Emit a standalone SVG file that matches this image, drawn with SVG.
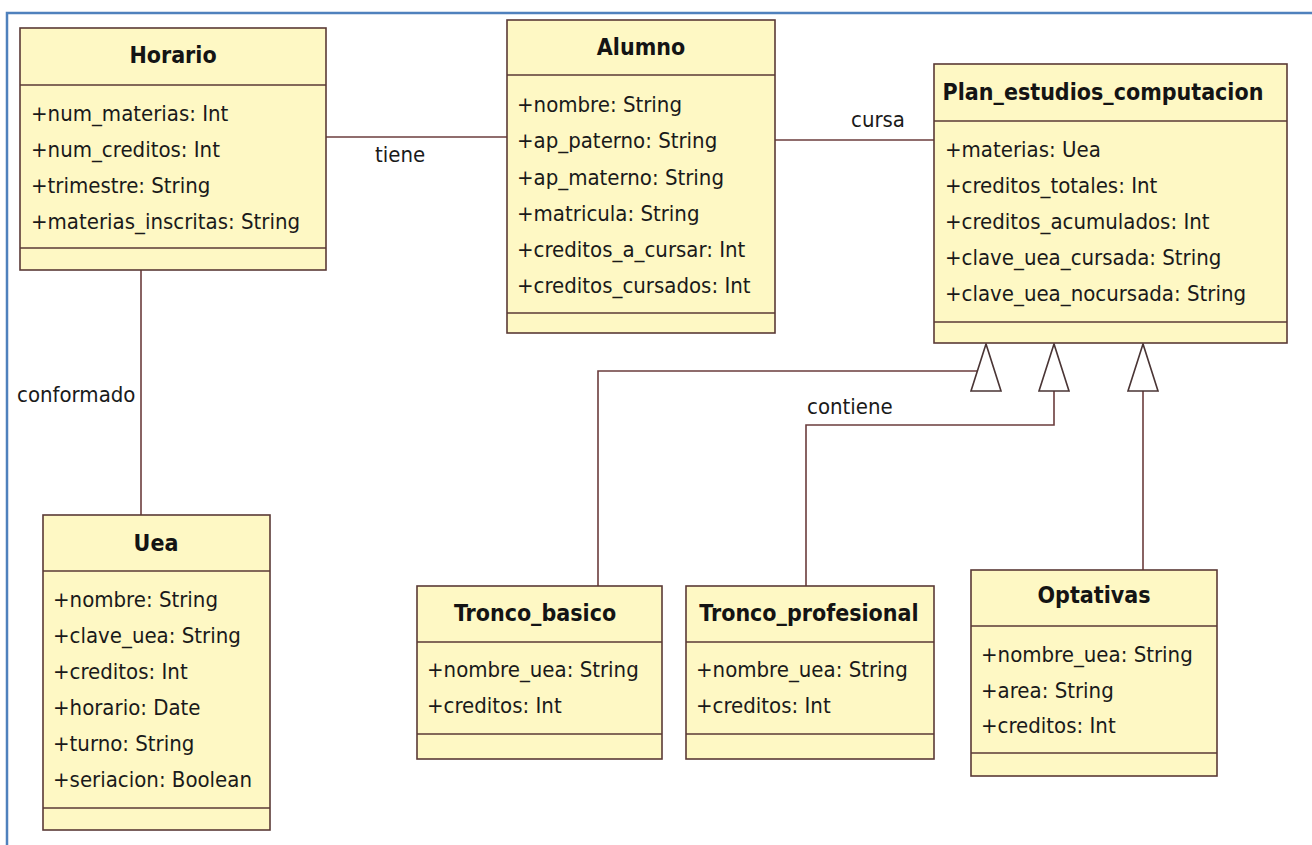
<svg xmlns="http://www.w3.org/2000/svg" width="1312" height="845" viewBox="0 0 1312 845">
<style>
.bg{fill:#ffffff}
.frame{fill:none;stroke:#4f81bd;stroke-width:2.5}
.box{fill:#fef8c4;stroke:#5a3a36;stroke-width:1.6}
.sep{stroke:#5a3a36;stroke-width:1.6}
.t{font-family:"DejaVu Sans Condensed","DejaVu Sans",sans-serif;font-stretch:condensed;font-weight:bold;font-size:23px;text-anchor:middle;fill:#141414}
.a{font-family:"DejaVu Sans Condensed","DejaVu Sans",sans-serif;font-stretch:condensed;font-size:22px;fill:#1a1a1a}
.lbl{font-family:"DejaVu Sans Condensed","DejaVu Sans",sans-serif;font-stretch:condensed;font-size:22px;fill:#1a1a1a}
.ln{fill:none;stroke:#6b3c3c;stroke-width:1.6}
.tri{fill:#ffffff;stroke:#4a3535;stroke-width:1.6}
</style>
<rect class="bg" x="0" y="0" width="1312" height="845"/>
<path class="frame" d="M1312,13 H7 V845"/>

<g id="connectors">
  <line class="ln" x1="326" y1="137" x2="507" y2="137"/>
  <text class="lbl" x="375" y="162">tiene</text>
  <line class="ln" x1="775" y1="140" x2="934" y2="140"/>
  <text class="lbl" x="851" y="127">cursa</text>
  <line class="ln" x1="141" y1="270" x2="141" y2="515"/>
  <text class="lbl" x="17" y="402">conformado</text>
  <polyline class="ln" points="977,371 598,371 598,586"/>
  <polyline class="ln" points="1054,391 1054,425 806,425 806,586"/>
  <text class="lbl" x="807" y="414">contiene</text>
  <line class="ln" x1="1143" y1="391" x2="1143" y2="570"/>
  <polygon class="tri" points="986,344 971,391 1001,391"/>
  <polygon class="tri" points="1054,344 1039,391 1069,391"/>
  <polygon class="tri" points="1143,344 1128,391 1158,391"/>
</g>

<g id="Horario">
  <rect class="box" x="20" y="28" width="306" height="242"/>
  <line class="sep" x1="20" y1="85" x2="326" y2="85"/>
  <line class="sep" x1="20" y1="248" x2="326" y2="248"/>
  <text class="t" x="173" y="63">Horario</text>
  <text class="a" x="31" y="121">+num_materias: Int</text>
  <text class="a" x="31" y="157">+num_creditos: Int</text>
  <text class="a" x="31" y="193">+trimestre: String</text>
  <text class="a" x="31" y="229">+materias_inscritas: String</text>
</g>

<g id="Alumno">
  <rect class="box" x="507" y="20" width="268" height="313"/>
  <line class="sep" x1="507" y1="75" x2="775" y2="75"/>
  <line class="sep" x1="507" y1="313" x2="775" y2="313"/>
  <text class="t" x="641" y="55">Alumno</text>
  <text class="a" x="517" y="112">+nombre: String</text>
  <text class="a" x="517" y="148">+ap_paterno: String</text>
  <text class="a" x="517" y="185">+ap_materno: String</text>
  <text class="a" x="517" y="221">+matricula: String</text>
  <text class="a" x="517" y="257">+creditos_a_cursar: Int</text>
  <text class="a" x="517" y="293">+creditos_cursados: Int</text>
</g>

<g id="Plan_estudios_computacion">
  <rect class="box" x="934" y="64" width="353" height="279"/>
  <line class="sep" x1="934" y1="121" x2="1287" y2="121"/>
  <line class="sep" x1="934" y1="322" x2="1287" y2="322"/>
  <text class="t" x="1103" y="100">Plan_estudios_computacion</text>
  <text class="a" x="945" y="157">+materias: Uea</text>
  <text class="a" x="945" y="193">+creditos_totales: Int</text>
  <text class="a" x="945" y="229">+creditos_acumulados: Int</text>
  <text class="a" x="945" y="265">+clave_uea_cursada: String</text>
  <text class="a" x="945" y="301">+clave_uea_nocursada: String</text>
</g>

<g id="Uea">
  <rect class="box" x="43" y="515" width="227" height="315"/>
  <line class="sep" x1="43" y1="571" x2="270" y2="571"/>
  <line class="sep" x1="43" y1="808" x2="270" y2="808"/>
  <text class="t" x="156" y="551">Uea</text>
  <text class="a" x="53" y="607">+nombre: String</text>
  <text class="a" x="53" y="643">+clave_uea: String</text>
  <text class="a" x="53" y="679">+creditos: Int</text>
  <text class="a" x="53" y="715">+horario: Date</text>
  <text class="a" x="53" y="751">+turno: String</text>
  <text class="a" x="53" y="787">+seriacion: Boolean</text>
</g>

<g id="Tronco_basico">
  <rect class="box" x="417" y="586" width="245" height="173"/>
  <line class="sep" x1="417" y1="642" x2="662" y2="642"/>
  <line class="sep" x1="417" y1="734" x2="662" y2="734"/>
  <text class="t" x="535" y="621">Tronco_basico</text>
  <text class="a" x="427" y="677">+nombre_uea: String</text>
  <text class="a" x="427" y="713">+creditos: Int</text>
</g>

<g id="Tronco_profesional">
  <rect class="box" x="686" y="586" width="248" height="173"/>
  <line class="sep" x1="686" y1="642" x2="934" y2="642"/>
  <line class="sep" x1="686" y1="734" x2="934" y2="734"/>
  <text class="t" x="809" y="621">Tronco_profesional</text>
  <text class="a" x="696" y="677">+nombre_uea: String</text>
  <text class="a" x="696" y="713">+creditos: Int</text>
</g>

<g id="Optativas">
  <rect class="box" x="971" y="570" width="246" height="206"/>
  <line class="sep" x1="971" y1="626" x2="1217" y2="626"/>
  <line class="sep" x1="971" y1="753" x2="1217" y2="753"/>
  <text class="t" x="1094" y="603">Optativas</text>
  <text class="a" x="981" y="662">+nombre_uea: String</text>
  <text class="a" x="981" y="698">+area: String</text>
  <text class="a" x="981" y="733">+creditos: Int</text>
</g>
</svg>
